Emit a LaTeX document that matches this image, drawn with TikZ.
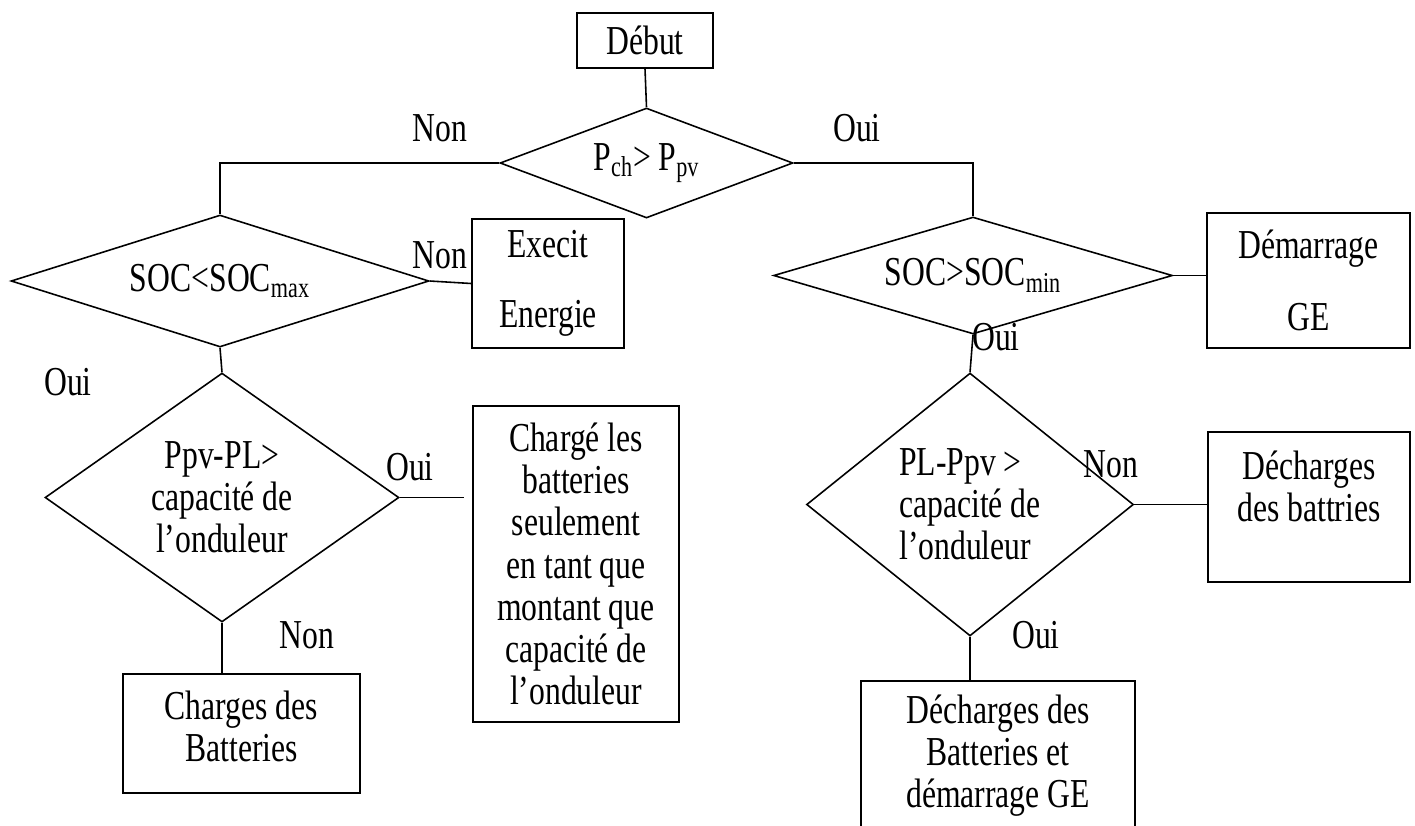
\documentclass[tikz,border=0pt]{standalone}
\usepackage{fontspec}
\setmainfont[FakeStretch=0.77]{Liberation Serif}
\usetikzlibrary{shapes.geometric}
\tikzset{
    box/.style 2 args={
            draw, rectangle, minimum width=#1, minimum height=#2,
            align=center, inner sep=0pt
        },
    test/.style 2 args={
            draw, diamond, minimum width=#1, minimum height=#2,
            align=center, inner sep=0pt
        },
    answer/.style={inner sep=0pt},
}

\begin{document}
\begin{tikzpicture}[x=0.02cm, y=-0.02cm, line width=0.9pt,
        font=\fontsize{23.4}{24}\selectfont]
    \useasboundingbox (0,0) rectangle (1415,825);
    \clip (0,0) rectangle (1415,825);
    %start and first test
    \node[box={2.72cm}{1.10cm}] (debut) at (645,40.5) {Début};
    \node[test={5.86cm}{2.20cm}, aspect=2.66] (pch) at (646.5,163)
        {P\textsubscript{ch}> P\textsubscript{pv}};
    %left branch
    \node[test={8.36cm}{2.64cm}, aspect=3.17] (socmax) at (220,281)
        {SOC<SOC\textsubscript{max}};
    \node[box={3.04cm}{2.58cm}] (exces) at (548,283.5) {Execit\\[16pt]Energie};
    \node[test={7.08cm}{4.98cm}, aspect=1.42] (ondl) at (222,497.5)
        {Ppv-PL>\\capacité de\\l’onduleur};
    \node[box={4.12cm}{6.32cm}] (chargeond) at (576,564)
        {Chargé les\\batteries\\seulement\\en tant que\\montant que\\capacité de\\l’onduleur};
    \node[box={4.74cm}{2.38cm}, text depth=8pt] (chargebat) at (241.5,733.5)
        {Charges des\\Batteries};
    %right branch
    \node[test={7.98cm}{2.34cm}, aspect=3.41] (socmin) at (973,275.5)
        {SOC>SOC\textsubscript{min}};
    \node[box={4.06cm}{2.70cm}] (demge) at (1308.5,280.5) {Démarrage\\[17pt]GE};
    \node[test={6.54cm}{5.26cm}, aspect=1.24, align=left] (ondr) at (970,504.5)
        {PL-Ppv >\\capacité de\\l’onduleur};
    \node[box={4.04cm}{3.00cm}, text depth=24pt] (dechbat) at (1309,507)
        {Décharges\\des battries};
    \node[box={5.48cm}{2.98cm}] (dechge) at (998,755.5)
        {Décharges des\\Batteries et\\démarrage GE};
    %connections
    \draw (debut.south) -- (pch.north);
    \draw (pch.west) -| (socmax.north);
    \draw (pch.east) -| (socmin.north);
    \draw (socmax.east) -- (exces.west);
    \draw (socmax.south) -- (ondl.north);
    \coordinate (ondlend) at (464,497.5);
    \draw (ondl.east) -- (ondlend);
    \draw (ondl.south) -- (ondl.south |- chargebat.north);
    \draw (socmin.east) -- (socmin.east -| demge.west);
    \draw (socmin.south) -- (ondr.north);
    \draw (ondr.east) -- (ondr.east -| dechbat.west);
    \draw (ondr.south) -- (ondr.south |- dechge.north);
    %answers
    \node[answer] (non1) at (440,128) {Non};
    \node[answer] (oui1) at (857,128) {Oui};
    \node[answer] (non2) at (440,255) {Non};
    \node[answer] (oui2) at (68,382) {Oui};
    \node[answer] (oui3) at (410,467) {Oui};
    \node[answer] (non3) at (307,635) {Non};
    \node[answer] (oui4) at (996,337) {Oui};
    \node[answer] (non4) at (1111,464) {Non};
    \node[answer] (oui5) at (1036,635) {Oui};
\end{tikzpicture}
\end{document}
